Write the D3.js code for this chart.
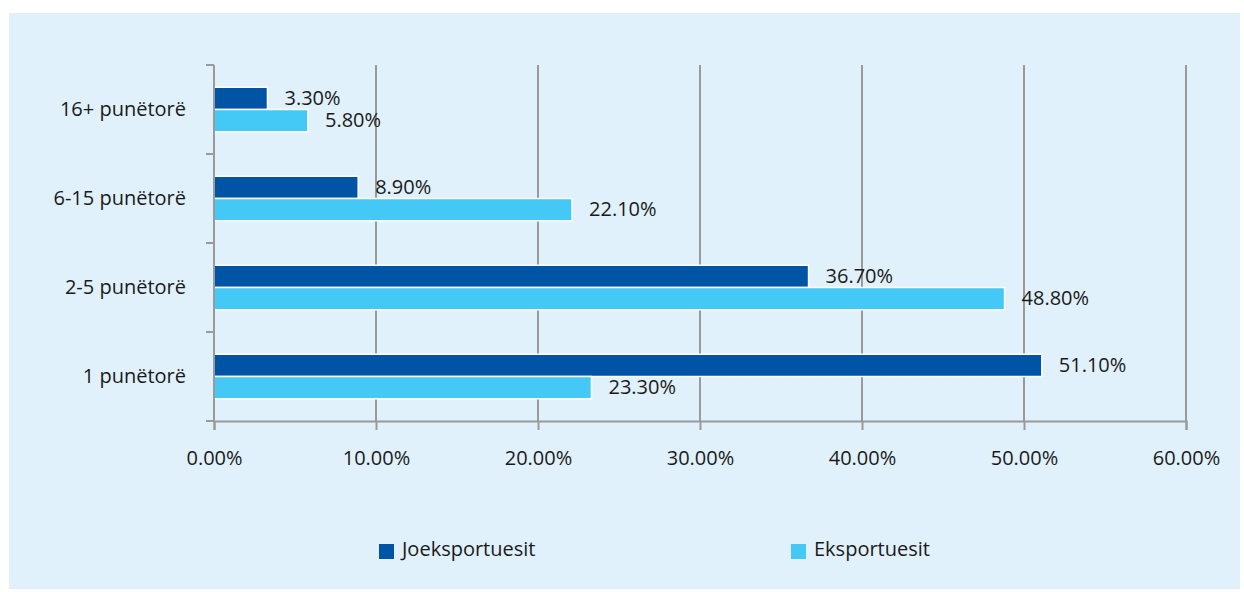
<!DOCTYPE html>
<html>
<head>
<meta charset="utf-8">
<script src="https://cdn.jsdelivr.net/npm/d3@7"></script>
<style>
  html, body { margin: 0; padding: 0; background: #ffffff; }
  svg { display: block; }
  text { font-family: "Open Sans", "Noto Sans", sans-serif; fill: #1a1a1a; }
</style>
</head>
<body>
<svg id="chart" width="1244" height="592"></svg>
<script>
// Share of firms by number of workers
const categories = ["16+ punëtorë", "6-15 punëtorë", "2-5 punëtorë", "1 punëtorë"];
const seriesNames = ["Joeksportuesit", "Eksportuesit"];
const nonExporters = [3.3, 8.9, 36.7, 51.1];
const exporters = [5.8, 22.1, 48.8, 23.3];
const xTicks = [0, 10, 20, 30, 40, 50, 60];
const colors = ["#0054A6", "#44C8F5"];

const svg = d3.select("#chart");
const W = 1244, H = 592;
const labelSize = 20;

// panel background
svg.append("rect")
  .attr("x", 9).attr("y", 13)
  .attr("width", W - 13).attr("height", H - 16)
  .attr("fill", "#E0F1FB");

const plot = { left: 214, right: 1186, top: 65, bottom: 421 };

const x = d3.scaleLinear().domain([0, 60]).range([plot.left, plot.right]);
const y = d3.scaleBand().domain(categories).range([plot.top, plot.bottom]).paddingInner(0.5).paddingOuter(0.25);
const y1 = d3.scaleBand().domain(seriesNames).range([0, y.bandwidth()]);

const axisColor = "#9a9a9a";

// vertical gridlines
svg.append("g").selectAll("line")
  .data(xTicks.slice(1))
  .join("line")
  .attr("x1", d => x(d)).attr("x2", d => x(d))
  .attr("y1", plot.top).attr("y2", plot.bottom)
  .attr("stroke", axisColor).attr("stroke-width", 2);

// bars
const rows = categories.map((c, i) => ({ cat: c, vals: [nonExporters[i], exporters[i]] }));
const groups = svg.append("g").selectAll("g")
  .data(rows)
  .join("g")
  .attr("transform", d => `translate(0,${y(d.cat)})`);

groups.selectAll("rect")
  .data(d => d.vals.map((v, k) => ({ v, k })))
  .join("rect")
  .attr("x", x(0))
  .attr("y", d => y1(seriesNames[d.k]))
  .attr("width", d => x(d.v) - x(0))
  .attr("height", y1.bandwidth())
  .attr("fill", d => colors[d.k])
  .attr("stroke", "#ffffff")
  .attr("stroke-width", 1.5);

groups.selectAll("text")
  .data(d => d.vals.map((v, k) => ({ v, k })))
  .join("text")
  .attr("x", d => x(d.v) + 17)
  .attr("y", d => y1(seriesNames[d.k]) + y1.bandwidth() / 2 + 1)
  .attr("dominant-baseline", "middle")
  .attr("font-size", labelSize)
  .text(d => d.v.toFixed(2) + "%");

// y axis
const yAxis = svg.append("g").attr("transform", `translate(${plot.left},0)`);
yAxis.append("line")
  .attr("x1", 0).attr("x2", 0).attr("y1", plot.top).attr("y2", plot.bottom)
  .attr("stroke", axisColor).attr("stroke-width", 2);
const bandStep = (plot.bottom - plot.top) / categories.length;
yAxis.selectAll("line.tick")
  .data(d3.range(categories.length + 1))
  .join("line")
  .attr("class", "tick")
  .attr("x1", -8).attr("x2", 0)
  .attr("y1", i => plot.top + i * bandStep)
  .attr("y2", i => plot.top + i * bandStep)
  .attr("stroke", axisColor).attr("stroke-width", 2);
yAxis.selectAll("text")
  .data(categories)
  .join("text")
  .attr("x", -28)
  .attr("y", d => y(d) + y.bandwidth() / 2 + 1)
  .attr("text-anchor", "end")
  .attr("dominant-baseline", "middle")
  .attr("font-size", labelSize)
  .text(d => d);

// x axis
const xAxis = svg.append("g")
  .attr("transform", `translate(0,${plot.bottom})`)
  .call(d3.axisBottom(x).tickValues(xTicks).tickFormat(d => d.toFixed(2) + "%").tickSize(9).tickPadding(21));
xAxis.select(".domain").attr("stroke", axisColor).attr("stroke-width", 2);
xAxis.selectAll(".tick line").attr("stroke", axisColor).attr("stroke-width", 2);
xAxis.selectAll(".tick text")
  .attr("font-size", labelSize)
  .attr("fill", "#1a1a1a")
  .style("font-family", "'Open Sans', 'Noto Sans', sans-serif");

// legend
const legendX = [379, 791];
const legend = svg.append("g").selectAll("g")
  .data(seriesNames)
  .join("g")
  .attr("transform", (d, i) => `translate(${legendX[i]},544)`);
legend.append("rect")
  .attr("width", 15).attr("height", 15)
  .attr("fill", (d, i) => colors[i]);
legend.append("text")
  .attr("x", 23).attr("y", 7)
  .attr("dominant-baseline", "middle")
  .attr("font-size", labelSize)
  .text(d => d);
</script>
</body>
</html>
